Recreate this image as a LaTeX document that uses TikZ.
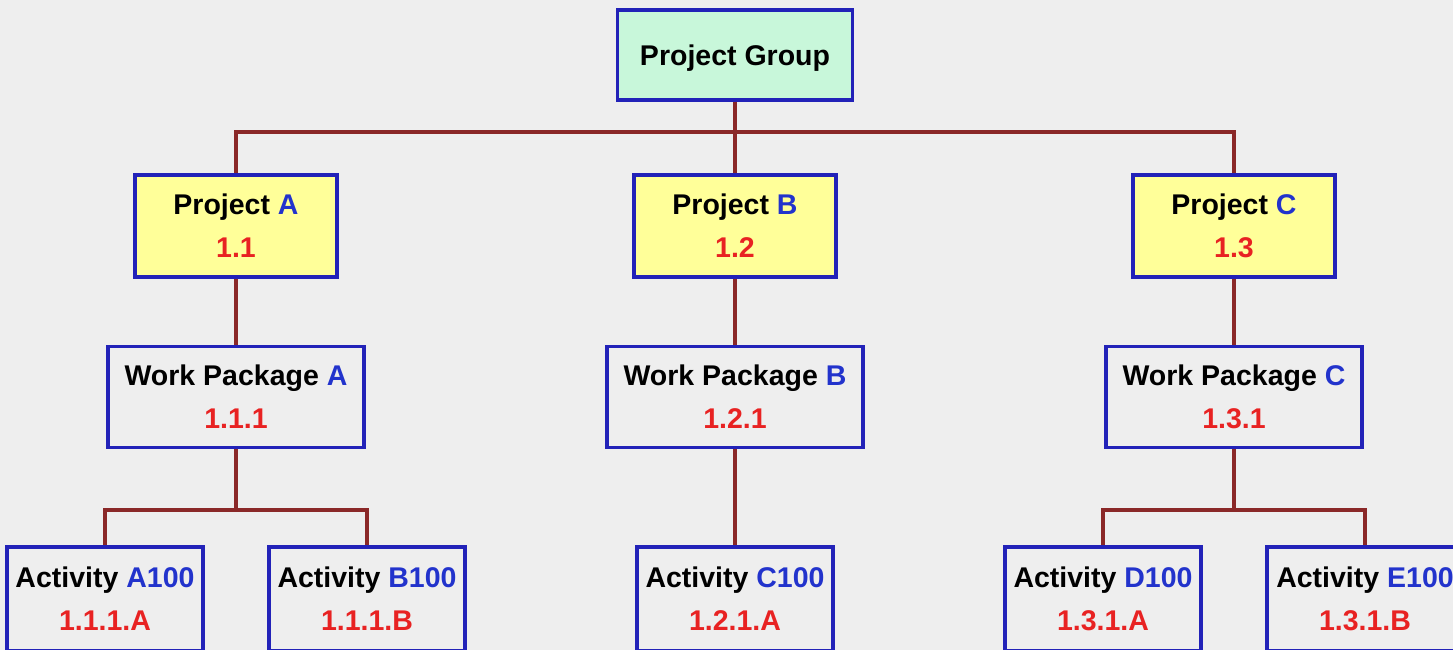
\documentclass[tikz,border=0pt]{standalone}
\usepackage{fontspec}
\setmainfont{Liberation Sans}
\definecolor{bgGrey}{HTML}{EEEEEE}
\definecolor{boxBlue}{HTML}{2222B8}
\definecolor{txtBlue}{HTML}{2233CC}
\definecolor{txtRed}{HTML}{E82222}
\definecolor{lineRed}{HTML}{8A2828}
\definecolor{pgGreen}{HTML}{C8F7DA}
\definecolor{projYellow}{HTML}{FFFF99}
\newcommand{\wbs}[3]{#1\ \textcolor{txtBlue}{#2}\\\textcolor{txtRed}{#3}}

\begin{document}
\begin{tikzpicture}[x=1pt,y=1pt,
  wbsbox/.style={draw=boxBlue,line width=3.5pt,inner sep=0pt,align=center,
    font=\fontsize{28.5}{43}\selectfont\bfseries},
  groupbox/.style={wbsbox,fill=pgGreen,minimum width=235pt,minimum height=90pt,text depth=0pt},
  projbox/.style={wbsbox,fill=projYellow,minimum width=202pt,minimum height=102pt},
  wpbox/.style={wbsbox,fill=bgGrey,minimum width=256pt,minimum height=101pt},
  actbox/.style={wbsbox,fill=bgGrey,minimum width=196pt,minimum height=104pt},
  edge from parent/.style={draw=lineRed,line width=4pt},
  branch/.style={edge from parent path={(\tikzparentnode.south) -- +(0,-#1) -| (\tikzchildnode.north)}},
  level 1/.style={sibling distance=499pt,level distance=171pt,branch=30pt},
  level 2/.style={level distance=171pt,edge from parent path={(\tikzparentnode.south) -- (\tikzchildnode.north)}},
  level 3/.style={sibling distance=262pt,level distance=202pt,branch=61pt}]
\useasboundingbox (0,0) rectangle (1453,-650);
\fill[bgGrey] (0,0) rectangle (1453,-650);
\node [groupbox] (pg) at (735,-55) {Project Group}
  child {node [projbox] (pa) {\wbs{Project}{A}{1.1}}
    child {node [wpbox] (wa) {\wbs{Work Package}{A}{1.1.1}}
      child {node [actbox] (a1) {\wbs{Activity}{A100}{1.1.1.A}}}
      child {node [actbox] (b1) {\wbs{Activity}{B100}{1.1.1.B}}}
      }
    }
  child {node [projbox] (pb) {\wbs{Project}{B}{1.2}}
    child {node [wpbox] (wb) {\wbs{Work Package}{B}{1.2.1}}
      child {node [actbox] (c1) {\wbs{Activity}{C100}{1.2.1.A}}}
      }
    }
  child {node [projbox] (pc) {\wbs{Project}{C}{1.3}}
    child {node [wpbox] (wc) {\wbs{Work Package}{C}{1.3.1}}
      child {node [actbox] (d1) {\wbs{Activity}{D100}{1.3.1.A}}}
      child {node [actbox] (e1) {\wbs{Activity}{E100}{1.3.1.B}}}
      }
    };
\end{tikzpicture}
\end{document}
